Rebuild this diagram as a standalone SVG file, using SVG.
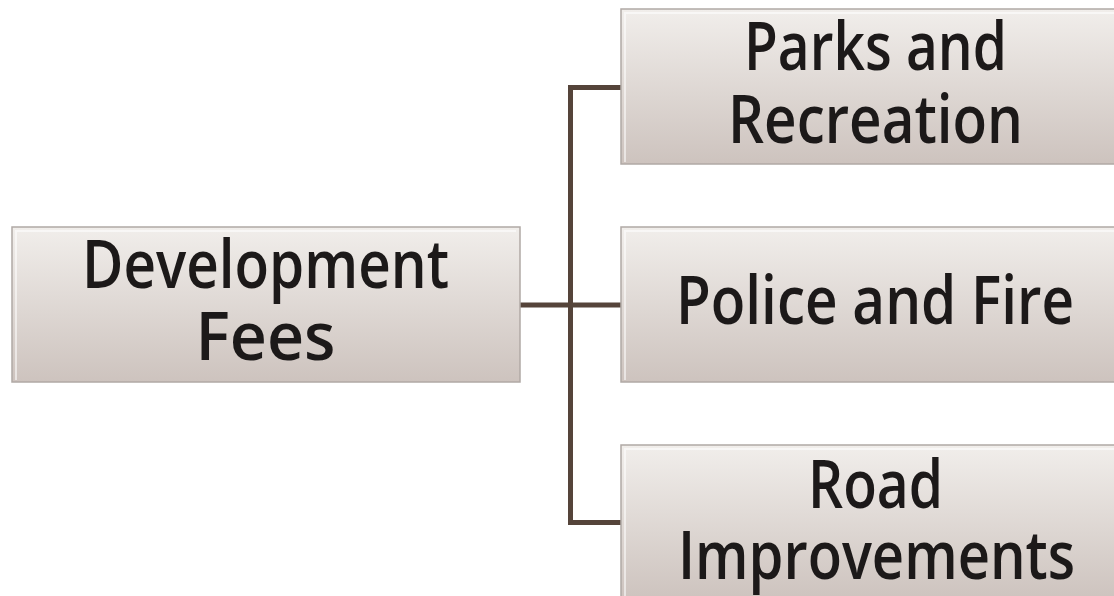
<svg xmlns="http://www.w3.org/2000/svg" width="1114" height="596" viewBox="0 0 1114 596">
<defs>
<linearGradient id="g" x1="0" y1="0" x2="0" y2="1">
<stop offset="0" stop-color="#f1eeeb"/>
<stop offset="1" stop-color="#cdc3be"/>
</linearGradient>
<style>
.box{fill:url(#g);stroke:#b0a9a5;stroke-width:1.5}
.hl{fill:none;stroke:#ffffff;stroke-opacity:0.55;stroke-width:2}
.t{font-family:"Open Sans","DejaVu Sans",sans-serif;font-weight:600;font-size:67px;fill:#1c1919;text-anchor:middle}
.c{fill:none;stroke:#55443a;stroke-width:5}
</style>
</defs>
<g id="connectors">
<path class="c" d="M520 305H621"/>
<path class="c" d="M621 87.5H570.5V522.5H621"/>
</g>
<g id="dev">
<rect class="box" x="12" y="227" width="508" height="155"/>
<path class="hl" d="M16 380V231H516"/>
<text class="t" x="265.5" y="288" textLength="367" lengthAdjust="spacingAndGlyphs">Development</text>
<text class="t" x="265.5" y="360" textLength="140" lengthAdjust="spacingAndGlyphs">Fees</text>
</g>
<g id="parks">
<rect class="box" x="621" y="9" width="508" height="155"/>
<path class="hl" d="M625 162V13H1125"/>
<text class="t" x="875.5" y="70" textLength="263" lengthAdjust="spacingAndGlyphs">Parks and</text>
<text class="t" x="875.5" y="143" textLength="295" lengthAdjust="spacingAndGlyphs">Recreation</text>
</g>
<g id="police">
<rect class="box" x="621" y="227" width="508" height="155"/>
<path class="hl" d="M625 380V231H1125"/>
<text class="t" x="875" y="324" textLength="398" lengthAdjust="spacingAndGlyphs">Police and Fire</text>
</g>
<g id="road">
<rect class="box" x="621" y="445" width="508" height="155"/>
<path class="hl" d="M625 598V449H1125"/>
<text class="t" x="875.5" y="508" textLength="135" lengthAdjust="spacingAndGlyphs">Road</text>
<text class="t" x="876.5" y="579" textLength="397" lengthAdjust="spacingAndGlyphs">Improvements</text>
</g>
</svg>
